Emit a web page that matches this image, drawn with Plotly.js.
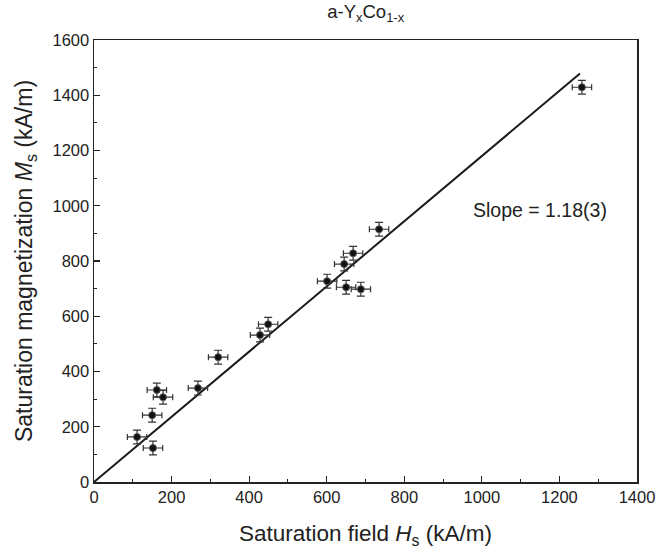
<!DOCTYPE html>
<html>
<head>
<meta charset="utf-8">
<script src="https://cdn.plot.ly/plotly-3.0.1.min.js"></script>
<style>html,body{margin:0;padding:0;background:#fff;}#chart{width:659px;height:553px;}</style>
</head>
<body>
<div id="chart"></div>
<script>
// Saturation field Hs (kA/m)
const fieldHs = [1258, 735, 668, 645, 601, 650, 688, 449, 428, 320, 268, 162, 178, 150, 111, 152];
// Saturation magnetization Ms (kA/m)
const magMs = [1429, 915, 828, 789, 727, 705, 698, 571, 532, 452, 340, 333, 307, 242, 163, 123];
const errHs = [25, 25, 25, 25, 25, 25, 25, 25, 25, 25, 25, 25, 25, 25, 25, 25];
const errMs = [25, 25, 25, 25, 25, 25, 25, 25, 25, 25, 25, 25, 25, 25, 25, 25];
// Linear fit through origin
const slope = 1.18;
const fitX = [0, 1253];
const fitY = fitX.map(x => slope * x);

const font = {family: 'Liberation Sans, Arial, sans-serif', color: '#222'};

const traces = [
  {
    x: fitX, y: fitY, mode: 'lines', type: 'scatter',
    line: {color: '#1a1a1a', width: 2}, hoverinfo: 'skip', showlegend: false
  },
  {
    x: fieldHs, y: magMs, mode: 'markers', type: 'scatter', showlegend: false,
    marker: {color: '#111', size: 7, line: {color: '#555', width: 1}},
    error_x: {type: 'data', array: errHs, visible: true, color: '#333', thickness: 1.2, width: 3},
    error_y: {type: 'data', array: errMs, visible: true, color: '#333', thickness: 1.2, width: 4}
  }
];

const axisCommon = {
  showgrid: false, zeroline: false, showline: true, mirror: true,
  linecolor: '#222', linewidth: 1.5,
  ticks: 'inside', ticklen: 6, tickwidth: 1.2, tickcolor: '#222',
  tickfont: Object.assign({size: 16.5}, font)
};

const layout = {
  width: 659, height: 553,
  margin: {l: 94, r: 22, t: 40, b: 71},
  paper_bgcolor: '#fff', plot_bgcolor: '#fff',
  font: font,
  title: {text: 'a-Y<sub>x</sub>Co<sub>1-x</sub>', x: 0.5549, xanchor: 'center', y: 0.99, yanchor: 'top', font: Object.assign({size: 18.5}, font)},
  xaxis: Object.assign({}, axisCommon, {
    range: [0, 1400], dtick: 200, tick0: 0,
    minor: {ticks: 'inside', ticklen: 3, dtick: 100, tickcolor: '#222', tickwidth: 1},
    title: {text: 'Saturation field <i>H</i><sub>s</sub> (kA/m)', standoff: 20, font: Object.assign({size: 22.5}, font)}
  }),
  yaxis: Object.assign({}, axisCommon, {
    range: [0, 1600], dtick: 200, tick0: 0,
    minor: {ticks: 'inside', ticklen: 3, dtick: 100, tickcolor: '#222', tickwidth: 1},
    title: {text: 'Saturation magnetization <i>M</i><sub>s</sub> (kA/m)', standoff: 13, font: Object.assign({size: 23}, font)}
  }),
  annotations: [{
    x: 1150, y: 984, xref: 'x', yref: 'y', text: 'Slope = 1.18(3)', showarrow: false,
    font: Object.assign({size: 19.5}, font)
  }]
};

Plotly.newPlot('chart', traces, layout, {staticPlot: true});
</script>
</body>
</html>
